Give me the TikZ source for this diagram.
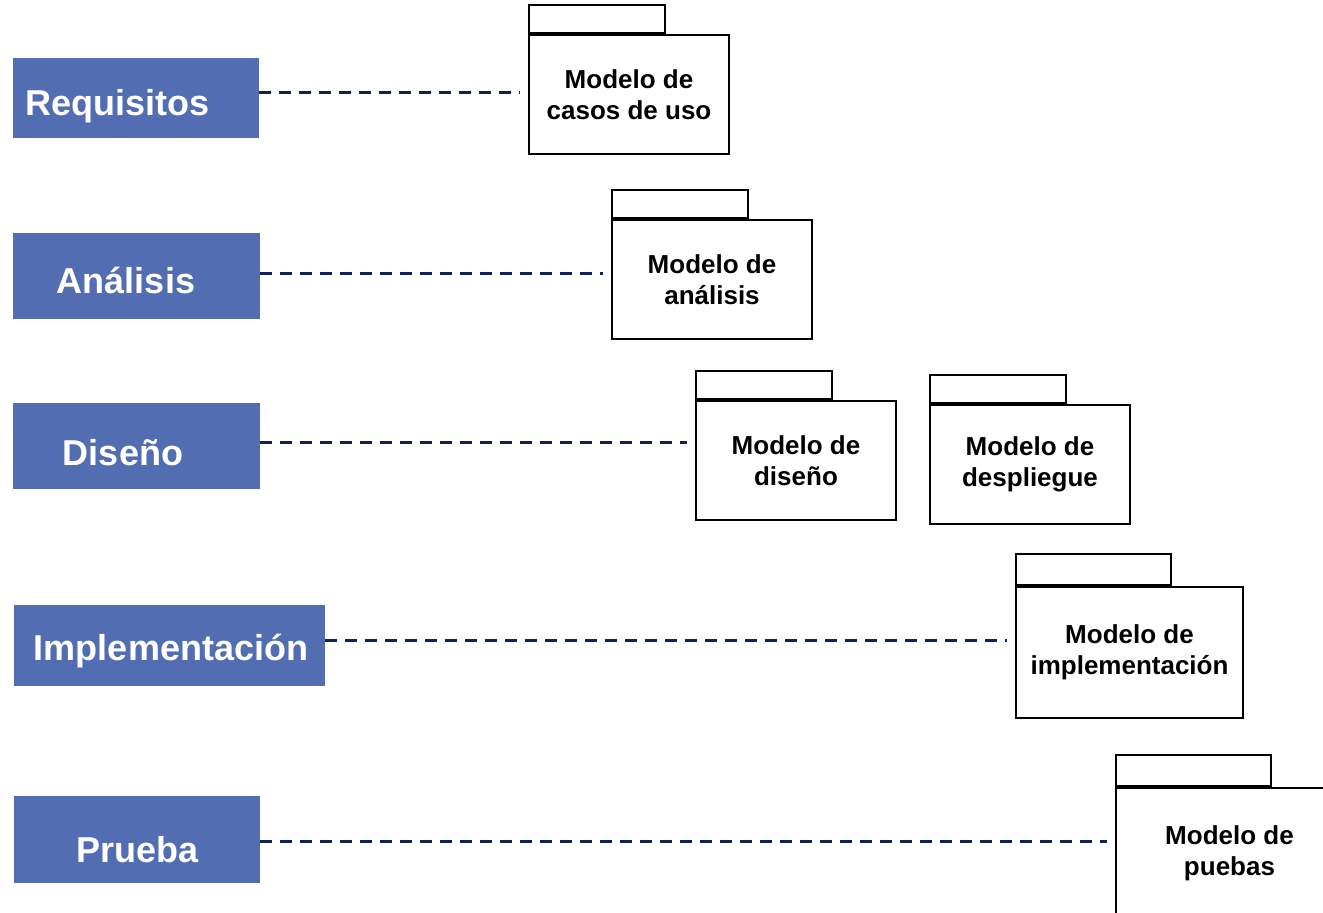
\documentclass[tikz,border=0pt]{standalone}
\usepackage{fontspec}
\setmainfont{Liberation Sans}
\usetikzlibrary{positioning}
\definecolor{phaseblue}{RGB}{83,109,178}
\definecolor{linknavy}{RGB}{16,32,88}

\begin{document}
\begin{tikzpicture}[x=1pt,y=-1pt,
    phase node/.style={rectangle,fill=phaseblue,inner sep=0pt},
    phase text/.style={text=white,font=\fontsize{36}{40}\selectfont\bfseries,inner sep=0pt,anchor=base},
    pkg node/.style={rectangle,draw,line width=2pt,align=center,inner sep=0pt,font=\fontsize{26}{31}\selectfont\bfseries},
    tab node/.style={rectangle,draw,line width=2pt,inner sep=0pt,anchor=south west},
    link/.style={-,draw=linknavy,line width=3pt,dash pattern=on 12pt off 8pt,shorten >=8pt}]
  \useasboundingbox (0,0) rectangle (1323,913);
  \clip (0,0) rectangle (1323,913);
  % phases
  \node[phase node,minimum width=246pt,minimum height=80pt] (req) at (136,98) {};
  \node[phase text] at (117.5,115) {Requisitos};
  \node[phase node,minimum width=247pt,minimum height=86pt] (ana) at (136.5,276) {};
  \node[phase text] at (126,293) {Análisis};
  \node[phase node,minimum width=247pt,minimum height=86pt] (dis) at (136.5,446) {};
  \node[phase text] at (123,465) {Diseño};
  \node[phase node,minimum width=311pt,minimum height=81pt] (imp) at (169.5,645.5) {};
  \node[phase text] at (171,660) {Implementación};
  \node[phase node,minimum width=246pt,minimum height=87pt] (pru) at (137,839.5) {};
  \node[phase text] at (137.5,862) {Prueba};
  % models
  \node[pkg node,minimum width=200pt,minimum height=119pt] (uso) at (629,94.5) {Modelo de\\casos de uso};
  \node[tab node,minimum width=136pt,minimum height=28pt] (uso-tab) at (uso.north west) {};
  \node[pkg node,minimum width=200pt,minimum height=119pt] (anm) at (712,279.5) {Modelo de\\análisis};
  \node[tab node,minimum width=136pt,minimum height=28pt] (anm-tab) at (anm.north west) {};
  \node[pkg node,minimum width=200pt,minimum height=119pt] (dsm) at (796,460.5) {Modelo de\\diseño};
  \node[tab node,minimum width=136pt,minimum height=28pt] (dsm-tab) at (dsm.north west) {};
  \node[pkg node,minimum width=200pt,minimum height=119pt] (dpm) at (1030,464.5) {Modelo de\\despliegue};
  \node[tab node,minimum width=136pt,minimum height=28pt] (dpm-tab) at (dpm.north west) {};
  \node[pkg node,minimum width=227pt,minimum height=131pt] (imm) at (1129.5,652.5) {Modelo de\\implementación};
  \node[tab node,minimum width=155pt,minimum height=31pt] (imm-tab) at (imm.north west) {};
  \node[pkg node,minimum width=227pt,minimum height=131pt] (prm) at (1229.5,853.5) {Modelo de\\puebas};
  \node[tab node,minimum width=155pt,minimum height=31pt] (prm-tab) at (prm.north west) {};
  % links
  \draw[link] (req.east |- 0,92) -- (uso.west |- 0,92);
  \draw[link] (ana.east |- 0,273) -- (anm.west |- 0,273);
  \draw[link] (dis.east |- 0,442) -- (dsm.west |- 0,442);
  \draw[link] (imp.east |- 0,640) -- (imm.west |- 0,640);
  \draw[link] (pru.east |- 0,841) -- (prm.west |- 0,841);
\end{tikzpicture}
\end{document}
